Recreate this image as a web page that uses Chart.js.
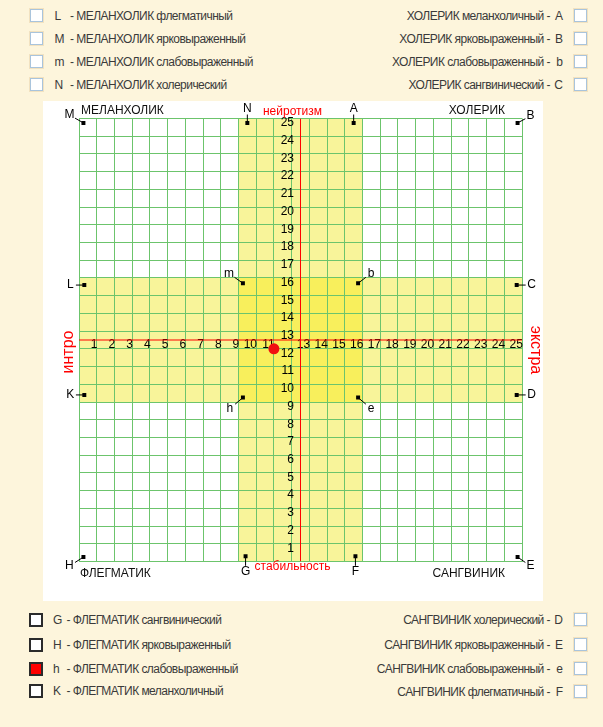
<!DOCTYPE html>
<html>
<head>
<meta charset="utf-8">
<script src="https://cdn.jsdelivr.net/npm/chart.js@4/dist/chart.umd.min.js"></script>
<style>
html,body{margin:0;padding:0;background:#FDF5DC;width:603px;height:727px;overflow:hidden;font-family:"Liberation Sans",Arial,sans-serif;}
#panel{position:absolute;left:43px;top:101px;width:500px;height:500px;background:#ffffff;}
#panel canvas{position:absolute;left:0;top:0;}
.row{position:absolute;font-size:12px;color:#3a3a3a;white-space:pre;line-height:14px;height:14px;letter-spacing:-0.55px;}
.lt{display:inline-block;letter-spacing:0;}
.cb{position:absolute;box-sizing:border-box;width:13px;height:13px;border:1px solid #A9C4DC;background:#fff;box-shadow:0 0 0 1px #F2E2C0;}
.cbd{position:absolute;box-sizing:border-box;width:14px;height:14px;border:2px solid #2b2b2b;background:#fff;}
.cbd.on{background:#FF0000;}
</style>
</head>
<body>
<div id="legend"></div>
<div id="panel"><canvas id="c" width="500" height="500"></canvas></div>
<script>
// ---------- data ----------
const gridMin = 0;
const gridMax = 25;
const axisCenter = 12.5;
const bandX = [9, 16];
const bandY = [9, 16];
const xTickLabels = [1,2,3,4,5,6,7,8,9,10,11,13,14,15,16,17,18,19,20,21,22,23,24,25];
const yTickLabels = [1,2,3,4,5,6,7,8,9,10,11,12,13,14,15,16,17,18,19,20,21,22,23,24,25];
const markerLabels = ['M','N','A','B','L','m','b','C','K','h','e','D','H','G','F','E'];
const markerX = [0.25,9.5,15.5,24.75,0.3,9.25,15.75,24.7,0.3,9.25,15.75,24.7,0.25,9.4,15.6,24.75];
const markerY = [24.75,24.75,24.75,24.75,15.6,15.7,15.7,15.6,9.4,9.25,9.25,9.4,0.25,0.3,0.3,0.25];
const resultX = [11];
const resultY = [12];
const selectedType = 'h';
const quadrantTitles = ['МЕЛАНХОЛИК','ХОЛЕРИК','ФЛЕГМАТИК','САНГВИНИК'];
const axisTitles = ['нейротизм','стабильность','интро','экстра'];
const legendTopLeft = [['L','МЕЛАНХОЛИК флегматичный'],['M','МЕЛАНХОЛИК ярковыраженный'],['m','МЕЛАНХОЛИК слабовыраженный'],['N','МЕЛАНХОЛИК холерический']];
const legendTopRight = [['A','ХОЛЕРИК меланхоличный'],['B','ХОЛЕРИК ярковыраженный'],['b','ХОЛЕРИК слабовыраженный'],['C','ХОЛЕРИК сангвинический']];
const legendBottomLeft = [['G','ФЛЕГМАТИК сангвинический'],['H','ФЛЕГМАТИК ярковыраженный'],['h','ФЛЕГМАТИК слабовыраженный'],['K','ФЛЕГМАТИК меланхоличный']];
const legendBottomRight = [['D','САНГВИНИК холерический'],['E','САНГВИНИК ярковыраженный'],['e','САНГВИНИК слабовыраженный'],['F','САНГВИНИК флегматичный']];

// ---------- styles ----------
const GRID = '#6CC46C';
const LIGHT_Y = '#F8F49A';
const DARK_Y = '#F8EF5C';
const RED = '#FF0000';
const FONT = '"Liberation Sans", Arial, sans-serif';
const labelOffset = {M:[-14,-8],N:[0,-14],A:[0,-14],B:[13,-7],L:[-14,0],m:[-14,-10],b:[13,-10],C:[15,0],
  K:[-14,0],h:[-13,11],e:[13,11],D:[15,0],H:[-14,9],G:[0,16],F:[0,16],E:[13,9]};

// ---------- legend (HTML) ----------
const leg = document.getElementById('legend');
function addLeft(list, tops, boxCls, boxLeft, textLeft, letterW) {
  list.forEach((it, i) => {
    const b = document.createElement('div');
    b.className = boxCls + ((boxCls === 'cbd' && it[0] === selectedType) ? ' on' : '');
    b.style.left = boxLeft + 'px';
    b.style.top = (tops[i] - 7) + 'px';
    leg.appendChild(b);
    const r = document.createElement('div');
    r.className = 'row';
    r.style.left = textLeft + 'px';
    r.style.top = (tops[i] - 7) + 'px';
    r.innerHTML = '<span class="lt" style="width:' + letterW + 'px">' + it[0] + '</span>- ' + it[1];
    leg.appendChild(r);
  });
}
function addRight(list, tops, boxLeft) {
  list.forEach((it, i) => {
    const b = document.createElement('div');
    b.className = 'cb';
    b.style.left = boxLeft + 'px';
    b.style.top = (tops[i] - 7) + 'px';
    leg.appendChild(b);
    const r = document.createElement('div');
    r.className = 'row';
    r.style.right = (603 - 563) + 'px';
    r.style.top = (tops[i] - 7) + 'px';
    r.style.textAlign = 'right';
    r.innerHTML = it[1] + ' -<span class="lt" style="width:13px;text-align:right">' + it[0] + '</span>';
    leg.appendChild(r);
  });
}
addLeft(legendTopLeft, [15.5, 39, 62, 85], 'cb', 30, 54.5, 15.5);
addRight(legendTopRight, [15.5, 39, 62, 85], 574);
addLeft(legendBottomLeft, [619.5, 645, 668.5, 690.5], 'cbd', 28.5, 53, 13.5);
addRight(legendBottomRight, [619.5, 645, 668.5, 692], 574);

// ---------- plugins ----------
const bandsPlugin = {
  id: 'bands',
  beforeDraw(chart) {
    const {ctx, scales: {x, y}} = chart;
    const L = x.getPixelForValue(gridMin), R = x.getPixelForValue(gridMax);
    const T = y.getPixelForValue(gridMax), B = y.getPixelForValue(gridMin);
    const x0 = x.getPixelForValue(bandX[0]), x1 = x.getPixelForValue(bandX[1]);
    const y0 = y.getPixelForValue(bandY[1]), y1 = y.getPixelForValue(bandY[0]);
    ctx.save();
    ctx.fillStyle = LIGHT_Y;
    ctx.fillRect(x0, T, x1 - x0, B - T);
    ctx.fillRect(L, y0, R - L, y1 - y0);
    ctx.fillStyle = DARK_Y;
    ctx.fillRect(x0, y0, x1 - x0, y1 - y0);
    ctx.restore();
  }
};
const numbersPlugin = {
  id: 'numbers',
  beforeDatasetsDraw(chart) {
    const {ctx, scales: {x, y}} = chart;
    ctx.save();
    ctx.font = '12px ' + FONT;
    ctx.fillStyle = '#000';
    ctx.textBaseline = 'middle';
    ctx.textAlign = 'right';
    const yc = y.getPixelForValue(axisCenter);
    xTickLabels.forEach(v => ctx.fillText(String(v), x.getPixelForValue(v) + 0.8, yc + 5));
    const xc = x.getPixelForValue(axisCenter);
    yTickLabels.forEach(v => ctx.fillText(String(v), xc - 6.5, y.getPixelForValue(v) + 4.5));
    ctx.restore();
  }
};
const annotPlugin = {
  id: 'annot',
  afterDatasetsDraw(chart) {
    const {ctx, scales: {x, y}} = chart;
    ctx.save();
    ctx.strokeStyle = '#000';
    ctx.lineWidth = 1;
    ctx.fillStyle = '#000';
    ctx.font = '12px ' + FONT;
    ctx.textAlign = 'center';
    ctx.textBaseline = 'middle';
    markerLabels.forEach((lab, i) => {
      const px = x.getPixelForValue(markerX[i]), py = y.getPixelForValue(markerY[i]);
      const [dx, dy] = labelOffset[lab];
      ctx.beginPath();
      ctx.moveTo(px, py);
      ctx.lineTo(px + dx * 0.6, py + dy * 0.6);
      ctx.stroke();
      ctx.fillText(lab, px + dx, py + dy);
    });
    const L = x.getPixelForValue(gridMin), R = x.getPixelForValue(gridMax);
    const T = y.getPixelForValue(gridMax), B = y.getPixelForValue(gridMin);
    ctx.fillStyle = '#111';
    ctx.textAlign = 'left';
    ctx.fillText(quadrantTitles[0], L + 2, T - 7.5);
    ctx.fillText(quadrantTitles[2], L + 1, B + 12);
    ctx.textAlign = 'right';
    ctx.fillText(quadrantTitles[1], R - 17, T - 8);
    ctx.fillText(quadrantTitles[3], R - 17, B + 12.5);
    ctx.fillStyle = RED;
    ctx.textAlign = 'center';
    const xc = x.getPixelForValue(axisCenter), yc = y.getPixelForValue(axisCenter);
    ctx.fillText(axisTitles[0], xc - 8, T - 6.5);
    ctx.fillText(axisTitles[1], xc - 8, B + 5.5);
    ctx.font = '16px ' + FONT;
    ctx.save();
    ctx.translate(L - 10, yc + 12);
    ctx.rotate(-Math.PI / 2);
    ctx.fillText(axisTitles[2], 0, 0);
    ctx.restore();
    ctx.save();
    ctx.translate(R + 13, yc + 10);
    ctx.rotate(Math.PI / 2);
    ctx.fillText(axisTitles[3], 0, 0);
    ctx.restore();
    ctx.restore();
  }
};

// ---------- chart ----------
const scaleCommon = {
  type: 'linear', min: gridMin, max: gridMax,
  ticks: {display: false, stepSize: 1, autoSkip: false},
  grid: {color: GRID, lineWidth: 1, drawTicks: false},
  border: {display: true, color: GRID, width: 1}
};
new Chart(document.getElementById('c'), {
  type: 'scatter',
  data: {
    datasets: [
      {
        label: 'result',
        data: resultX.map((v, i) => ({x: v, y: resultY[i]})),
        backgroundColor: '#F01010', borderColor: '#F01010',
        pointRadius: 5.5, pointHoverRadius: 5.5, borderWidth: 0
      },
      {
        label: 'markers',
        data: markerX.map((v, i) => ({x: v, y: markerY[i]})),
        backgroundColor: '#000', borderColor: '#000',
        pointStyle: 'rect', pointRadius: 2.8, borderWidth: 0
      },
      {
        type: 'line', label: 'v',
        data: [{x: axisCenter, y: gridMin}, {x: axisCenter, y: gridMax}],
        borderColor: RED, borderWidth: 1, pointRadius: 0, fill: false
      },
      {
        type: 'line', label: 'h',
        data: [{x: gridMin, y: axisCenter}, {x: gridMax, y: axisCenter}],
        borderColor: RED, borderWidth: 1, pointRadius: 0, fill: false
      }
    ]
  },
  options: {
    responsive: false,
    animation: false,
    devicePixelRatio: 1,
    layout: {padding: {left: 36, top: 17.5, right: 21, bottom: 39.5}},
    plugins: {legend: {display: false}, tooltip: {enabled: false}},
    events: [],
    scales: {
      x: Object.assign({}, scaleCommon, {afterFit(s) { s.height = 0; }}),
      y: Object.assign({}, scaleCommon, {afterFit(s) { s.width = 0; }})
    }
  },
  plugins: [bandsPlugin, numbersPlugin, annotPlugin]
});
</script>
</body>
</html>
